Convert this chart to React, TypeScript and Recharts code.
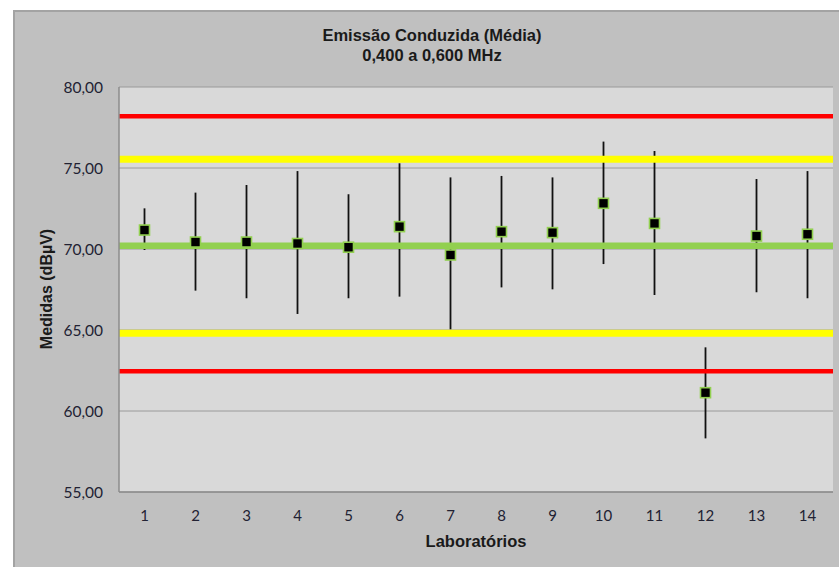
import React from 'react';
import {
  ComposedChart,
  Line,
  XAxis,
  YAxis,
  CartesianGrid,
  ReferenceLine,
  ErrorBar,
} from 'recharts';

const labs = ['1', '2', '3', '4', '5', '6', '7', '8', '9', '10', '11', '12', '13', '14'];
const means = [71.17, 70.43, 70.43, 70.34, 70.11, 71.38, 69.63, 71.07, 71.01, 72.82, 71.58, 61.13, 70.8, 70.91];
const lows = [69.94, 67.43, 66.96, 65.99, 66.96, 67.06, 65.04, 67.63, 67.51, 69.07, 67.16, 58.31, 67.33, 66.96];
const highs = [72.51, 73.48, 73.95, 74.81, 73.38, 75.29, 74.42, 74.51, 74.42, 76.63, 76.05, 63.93, 74.32, 74.81];
const yTicks = [55, 60, 65, 70, 75, 80];

const refValue = 70.2;
const innerLimits = [75.54, 64.8];
const outerLimits = [78.2, 62.45];

const data = labs.map((lab, i) => ({
  lab,
  mean: means[i],
  err: [means[i] - lows[i], highs[i] - means[i]],
}));

const fmt = (v: number) => v.toFixed(2).replace('.', ',');

const Square = (props: any) => {
  const { cx, cy, index } = props;
  if (cx == null || cy == null) return <g key={index} />;
  return (
    <rect
      key={index}
      x={cx - 5}
      y={cy - 5}
      width={10}
      height={10}
      fill="#000"
      stroke="#92d050"
      strokeWidth={1.6}
    />
  );
};

const titleFont = '"Liberation Sans", Arial, sans-serif';

export default function App() {
  return (
    <div style={{ position: 'absolute', left: 0, top: 0, width: 839, height: 567, background: '#fff', overflow: 'hidden' }}>
      <div
        style={{
          position: 'absolute',
          left: 13,
          top: 10,
          width: 826,
          height: 557,
          background: '#c0c0c0',
          borderTop: '2px solid #a3a3a3',
          borderLeft: '2px solid #a3a3a3',
          boxSizing: 'border-box',
        }}
      />
      <div
        style={{
          position: 'absolute',
          left: 232,
          width: 400,
          top: 25,
          textAlign: 'center',
          fontFamily: titleFont,
          fontWeight: 'bold',
          fontSize: 16.5,
          lineHeight: '20px',
          color: '#1a1a1a',
        }}
      >
        <div>Emissão Conduzida (Média)</div>
        <div>0,400 a 0,600 MHz</div>
      </div>
      <div
        style={{
          position: 'absolute',
          left: 376,
          width: 200,
          top: 531,
          textAlign: 'center',
          fontFamily: titleFont,
          fontWeight: 'bold',
          fontSize: 16.5,
          lineHeight: '20px',
          color: '#1a1a1a',
        }}
      >
        Laboratórios
      </div>
      <div
        style={{
          position: 'absolute',
          left: 47 - 100,
          width: 200,
          top: 289 - 10,
          textAlign: 'center',
          fontFamily: titleFont,
          fontWeight: 'bold',
          fontSize: 16,
          lineHeight: '20px',
          color: '#1a1a1a',
          transform: 'rotate(-90deg)',
        }}
      >
        Medidas (dBµV)
      </div>
      <div style={{ position: 'absolute', left: 0, top: 0 }}>
        <ComposedChart
          width={839}
          height={567}
          data={data}
          margin={{ top: 87, right: 6, bottom: 35, left: 49 }}
        >
          <CartesianGrid vertical={false} stroke="#9a9a9a" fill="#d9d9d9" />
          <XAxis
            dataKey="lab"
            type="category"
            height={40}
            padding={{ left: 25.5, right: 25.5 }}
            tickLine={false}
            tickSize={0}
            tickMargin={18}
            axisLine={{ stroke: '#8c8c8c', strokeWidth: 1.5 }}
            tick={{ fill: '#222233', fontSize: 15, fontFamily: 'Lato, sans-serif' }}
            interval={0}
          />
          <YAxis
            type="number"
            domain={[55, 80]}
            ticks={yTicks}
            width={70}
            tickLine={false}
            tickSize={0}
            tickMargin={16}
            tickFormatter={fmt}
            axisLine={{ stroke: '#8c8c8c', strokeWidth: 1.5 }}
            tick={{ fill: '#222233', fontSize: 15.5, fontFamily: 'Lato, sans-serif' }}
          />
          <Line
            dataKey="mean"
            stroke="none"
            isAnimationActive={false}
            dot={Square}
            activeDot={false}
          >
            <ErrorBar dataKey="err" direction="y" width={0} stroke="#111" strokeWidth={1.8} />
          </Line>
          <ReferenceLine y={outerLimits[0]} stroke="#ff0000" strokeWidth={4.5} />
          <ReferenceLine y={outerLimits[1]} stroke="#ff0000" strokeWidth={4.5} />
          <ReferenceLine y={innerLimits[0]} stroke="#ffff00" strokeWidth={7} />
          <ReferenceLine y={innerLimits[1]} stroke="#ffff00" strokeWidth={7} />
          <ReferenceLine y={refValue} stroke="#92d050" strokeWidth={6.5} />
        </ComposedChart>
      </div>
    </div>
  );
}
